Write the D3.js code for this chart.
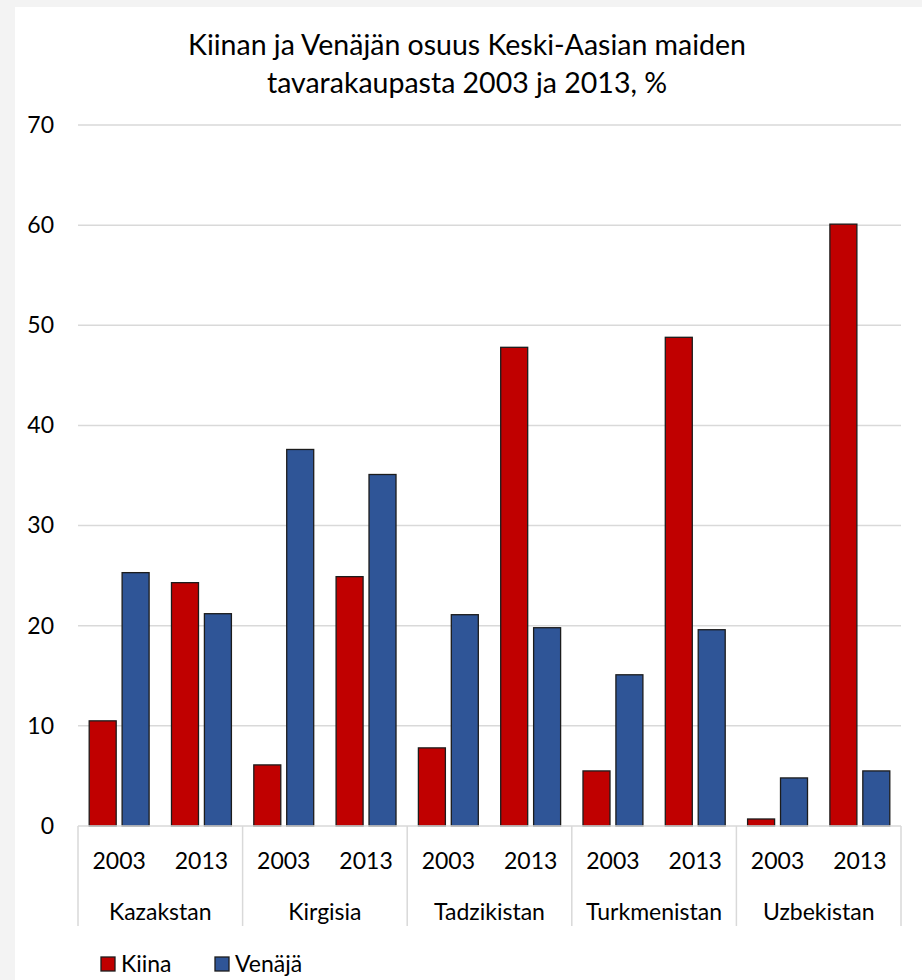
<!DOCTYPE html>
<html>
<head>
<meta charset="utf-8">
<script src="https://cdn.jsdelivr.net/npm/d3@7"></script>
<style>
  body { margin: 0; background: #f3f3f3; }
  svg { display: block; font-family: Lato, "Open Sans", sans-serif; }
</style>
</head>
<body>
<script>
// chart data
var countries = ["Kazakstan", "Kirgisia", "Tadzikistan", "Turkmenistan", "Uzbekistan"];
var years = ["2003", "2013"];
var seriesNames = ["Kiina", "Venäjä"];
var kiina = [10.5, 24.3, 6.1, 24.9, 7.8, 47.8, 5.5, 48.8, 0.7, 60.1];
var venaja = [25.3, 21.2, 37.6, 35.1, 21.1, 19.8, 15.1, 19.6, 4.8, 5.5];
var yTicks = [0, 10, 20, 30, 40, 50, 60, 70];
var colors = ["#C00000", "#2F5597"];

var svgWidth = 922, svgHeight = 980;
var plotLeft = 78, plotRight = 901, plotTop = 125, plotBottom = 826;
var labelSize = 23;

var svg = d3.select("body").append("svg").attr("width", svgWidth).attr("height", svgHeight);

// white panel
svg.append("rect").attr("x", 15).attr("y", 7).attr("width", svgWidth - 15).attr("height", svgHeight - 7).attr("fill", "#fff");

// title
var title = svg.append("text").attr("text-anchor", "middle").attr("font-size", 28.5).attr("fill", "#000");
title.append("tspan").attr("x", 467).attr("y", 55).text("Kiinan ja Venäjän osuus Keski-Aasian maiden");
title.append("tspan").attr("x", 467).attr("y", 93).text("tavarakaupasta 2003 ja 2013, %");

// scales
var x0 = d3.scaleBand().domain(countries).range([plotLeft, plotRight]);
var x1 = d3.scaleBand().domain(years).range([0, x0.bandwidth()]);
var x2 = d3.scaleBand().domain(seriesNames).range([0, x1.bandwidth()]).paddingInner(0.18).paddingOuter(0.34);
var y = d3.scaleLinear().domain([0, 70]).range([plotBottom, plotTop]);

// gridlines
svg.append("g").selectAll("line").data(yTicks.slice(1)).enter().append("line")
  .attr("x1", plotLeft).attr("x2", plotRight)
  .attr("y1", d => y(d)).attr("y2", d => y(d))
  .attr("stroke", "#d9d9d9").attr("stroke-width", 1.5);

// y labels
var leftAxis = d3.axisLeft(y).tickValues(yTicks).tickSize(0).tickPadding(0);
var yAxis = svg.append("g").attr("transform", "translate(54,0)").call(leftAxis);
yAxis.select(".domain").remove();
yAxis.selectAll("text").attr("font-size", labelSize).attr("font-family", "Lato, sans-serif").attr("fill", "#000");

// bars
var rows = [];
countries.forEach(function(c, i) {
  years.forEach(function(yr, j) {
    var k = i * years.length + j;
    rows.push({country: c, year: yr, values: [kiina[k], venaja[k]]});
  });
});

var groups = svg.append("g").selectAll("g").data(rows).enter().append("g")
  .attr("transform", d => `translate(${x0(d.country) + x1(d.year)},0)`);
groups.selectAll("rect").data(d => d.values.map((v, s) => ({name: seriesNames[s], value: v, color: colors[s]})))
  .enter().append("rect")
  .attr("x", d => x2(d.name))
  .attr("width", x2.bandwidth())
  .attr("y", d => y(d.value))
  .attr("height", d => y(0) - y(d.value))
  .attr("fill", d => d.color)
  .attr("stroke", "#1c1c1c").attr("stroke-width", 1.3);

// x axis baseline
svg.append("line").attr("x1", plotLeft).attr("x2", plotRight).attr("y1", plotBottom).attr("y2", plotBottom)
  .attr("stroke", "#d9d9d9").attr("stroke-width", 1.5);

// category separators
var seps = countries.map(c => x0(c)).concat([plotRight]);
svg.append("g").selectAll("line").data(seps).enter().append("line")
  .attr("x1", d => d).attr("x2", d => d).attr("y1", plotBottom).attr("y2", 926)
  .attr("stroke", "#d9d9d9").attr("stroke-width", 1.5);

// year labels
svg.append("g").selectAll("text").data(rows).enter().append("text")
  .attr("x", d => x0(d.country) + x1(d.year) + x1.bandwidth() / 2)
  .attr("y", 869).attr("text-anchor", "middle").attr("font-size", labelSize)
  .text(d => d.year);

// country labels
svg.append("g").selectAll("text").data(countries).enter().append("text")
  .attr("x", d => x0(d) + x0.bandwidth() / 2)
  .attr("y", 920).attr("text-anchor", "middle").attr("font-size", labelSize)
  .text(d => d);

// legend
var legend = svg.append("g").selectAll("g").data(seriesNames).enter().append("g")
  .attr("transform", (d, i) => `translate(${101 + i * 114},957)`);
legend.append("rect").attr("width", 14).attr("height", 14)
  .attr("fill", (d, i) => colors[i]).attr("stroke", "#1c1c1c").attr("stroke-width", 1.3);
legend.append("text").attr("x", 20).attr("y", 15).attr("font-size", labelSize).text(d => d);
</script>
</body>
</html>
